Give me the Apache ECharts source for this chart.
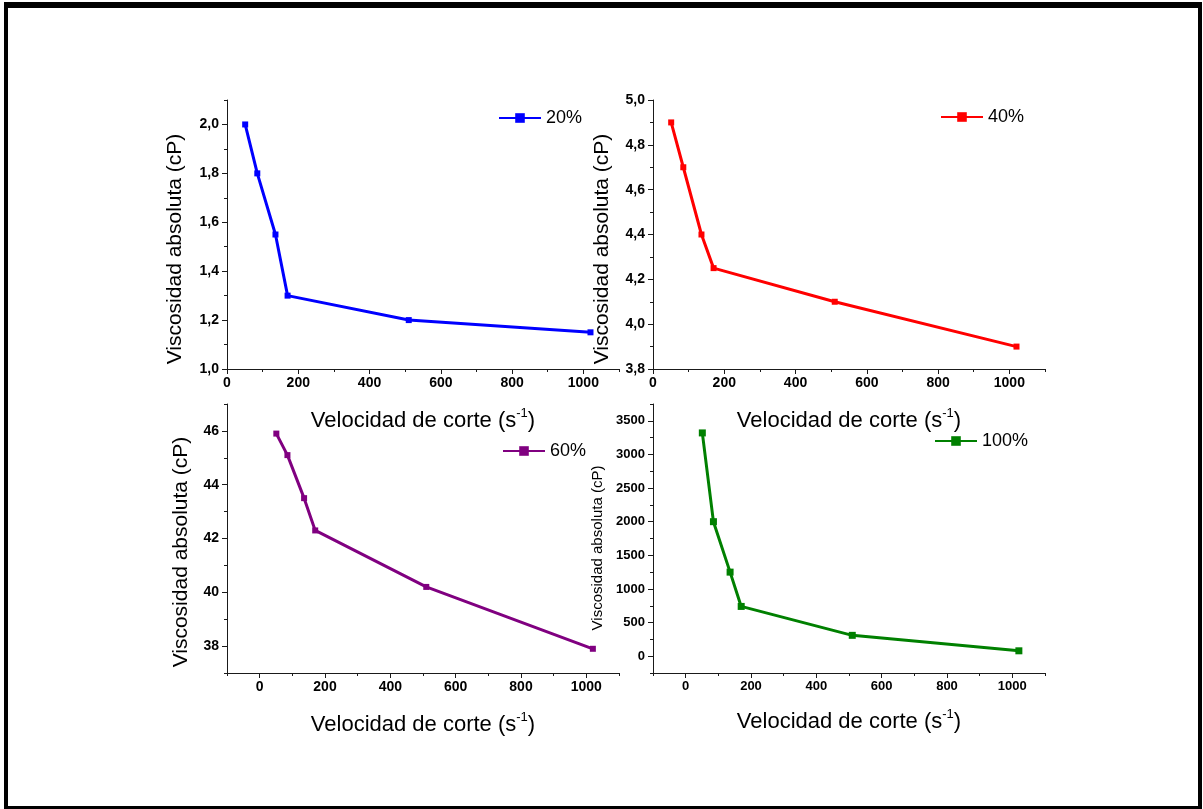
<!DOCTYPE html>
<html>
<head>
<meta charset="utf-8">
<script src="https://cdn.jsdelivr.net/npm/echarts@6/dist/echarts.min.js"></script>
<style>
  html, body { margin: 0; padding: 0; background: #fff; }
  #chart { width: 1203px; height: 809px; }
</style>
</head>
<body>
<div id="chart"></div>
<script>
// Shear rates (s^-1) measured for every dilution
const shearRate = [51, 85, 136, 170, 510, 1020];

// Absolute viscosity (cP) per dilution
const visc20 = [2.0, 1.8, 1.55, 1.3, 1.2, 1.15];
const visc40 = [4.9, 4.7, 4.4, 4.25, 4.1, 3.9];
const visc60 = [45.9, 45.1, 43.5, 42.3, 40.2, 37.9];
const visc100 = [3320, 2000, 1250, 740, 310, 80];
const seriesNames = ['20%', '40%', '60%', '100%'];

// Major tick / label values
const xTicks = [0, 200, 400, 600, 800, 1000];
const yTicks20 = [1.0, 1.2, 1.4, 1.6, 1.8, 2.0];
const yTicks40 = [3.8, 4.0, 4.2, 4.4, 4.6, 4.8, 5.0];
const yTicks60 = [38, 40, 42, 44, 46];
const yTicks100 = [0, 500, 1000, 1500, 2000, 2500, 3000, 3500];

const xTitle = 'Velocidad de corte (s';
const xTitleSup = '-1';
const yTitle = 'Viscosidad absoluta (cP)';

const FONT = '"Liberation Sans", Arial, Helvetica, sans-serif';
const AXIS_COLOR = '#1a1a1a';

const panels = [
  { name: seriesNames[0], values: visc20, color: '#0000ff', left: 227, top: 100,
    xMin: 0, xMax: 1100, xMinor: 100, xTicks: xTicks,
    yMin: 1.0, yMax: 2.1, yMinor: 0.1, yTicks: yTicks20, dec: 1,
    symbolSize: 6, labelSize: 14, legend: [498, 109], nameGap: 38,
    yTitle: { x: 175, y: 249, size: 21 } },
  { name: seriesNames[1], values: visc40, color: '#ff0000', left: 653, top: 100,
    xMin: 0, xMax: 1100, xMinor: 100, xTicks: xTicks,
    yMin: 3.8, yMax: 5.0, yMinor: 0.1, yTicks: yTicks40, dec: 1,
    symbolSize: 6, labelSize: 14, legend: [940, 108], nameGap: 38,
    yTitle: { x: 602, y: 249, size: 21 } },
  { name: seriesNames[2], values: visc60, color: '#800080', left: 227, top: 404,
    xMin: -100, xMax: 1100, xMinor: 100, xTicks: xTicks,
    yMin: 37, yMax: 47, yMinor: 1, yTicks: yTicks60, dec: 0,
    symbolSize: 6, labelSize: 14, legend: [502, 442], nameGap: 38,
    yTitle: { x: 181, y: 552, size: 21 } },
  { name: seriesNames[3], values: visc100, color: '#008000', left: 653, top: 404,
    xMin: -100, xMax: 1100, xMinor: 100, xTicks: xTicks,
    yMin: -250, yMax: 3750, yMinor: 250, yTicks: yTicks100, dec: 0,
    symbolSize: 7, labelSize: 13, legend: [934, 432], nameGap: 35,
    yTitle: { x: 598, y: 548, size: 15 } }
];

const grid = [], xAxis = [], yAxis = [], series = [], legend = [];
const graphic = [
  // page frame
  { type: 'rect', shape: { x: 4, y: 2, width: 1198, height: 6 }, style: { fill: '#000' } },
  { type: 'rect', shape: { x: 4, y: 2, width: 4, height: 807 }, style: { fill: '#000' } },
  { type: 'rect', shape: { x: 1198, y: 2, width: 4, height: 807 }, style: { fill: '#000' } },
  { type: 'rect', shape: { x: 4, y: 806, width: 1198, height: 3 }, style: { fill: '#000' } }
];

const axisLineStyle = { color: AXIS_COLOR, width: 1 };

panels.forEach((p, i) => {
  grid.push({ left: p.left, top: p.top, width: 392, height: 269, containLabel: false });

  const labelStyle = {
    color: '#000', fontWeight: 'bold', fontSize: p.labelSize, fontFamily: FONT
  };

  // main x axis: line, major ticks, labels, title
  xAxis.push({
    type: 'value', gridIndex: i, position: 'bottom', min: p.xMin, max: p.xMax,
    axisLine: { show: true, onZero: false, lineStyle: axisLineStyle },
    axisTick: { show: true, customValues: p.xTicks, length: 5, lineStyle: axisLineStyle },
    axisLabel: Object.assign({
      customValues: p.xTicks, margin: 7,
      formatter: v => String(Math.round(v))
    }, labelStyle),
    splitLine: { show: false },
    name: '{a|' + xTitle + '}{b|' + xTitleSup + '}{a|)}',
    nameLocation: 'middle',
    nameGap: p.nameGap,
    nameTextStyle: {
      rich: {
        a: { fontSize: 22, fontFamily: FONT, color: '#000', lineHeight: 27 },
        b: { fontSize: 13, fontFamily: FONT, color: '#000', lineHeight: 14, verticalAlign: 'top' }
      }
    }
  });
  // minor x ticks
  xAxis.push({
    type: 'value', gridIndex: i, position: 'bottom', min: p.xMin, max: p.xMax, interval: p.xMinor,
    axisLine: { show: false, onZero: false },
    axisTick: { show: true, length: 3, lineStyle: axisLineStyle },
    axisLabel: { show: false },
    splitLine: { show: false }
  });

  // main y axis
  yAxis.push({
    type: 'value', gridIndex: i, position: 'left', min: p.yMin, max: p.yMax,
    axisLine: { show: true, onZero: false, lineStyle: axisLineStyle },
    axisTick: { show: true, customValues: p.yTicks, length: 5, lineStyle: axisLineStyle },
    axisLabel: Object.assign({
      customValues: p.yTicks, margin: 8,
      formatter: v => p.dec ? Number(v).toFixed(p.dec).replace('.', ',') : String(Math.round(v))
    }, labelStyle),
    splitLine: { show: false }
  });
  // minor y ticks
  yAxis.push({
    type: 'value', gridIndex: i, position: 'left', min: p.yMin, max: p.yMax, interval: p.yMinor,
    axisLine: { show: false, onZero: false },
    axisTick: { show: true, length: 3, lineStyle: axisLineStyle },
    axisLabel: { show: false },
    splitLine: { show: false }
  });

  series.push({
    type: 'line', name: p.name,
    xAxisIndex: 2 * i, yAxisIndex: 2 * i,
    data: shearRate.map((x, k) => [x, p.values[k]]),
    symbol: 'rect', symbolSize: p.symbolSize, showAllSymbol: true,
    color: p.color,
    lineStyle: { width: 3, color: p.color },
    itemStyle: { color: p.color },
    animation: false, clip: false, z: 3
  });

  legend.push({
    data: [p.name], left: p.legend[0], top: p.legend[1], padding: 0,
    itemWidth: 42, itemHeight: 12, selectedMode: false,
    textStyle: { fontSize: 18, color: '#000', fontFamily: FONT }
  });

  graphic.push({
    type: 'text', x: p.yTitle.x, y: p.yTitle.y, rotation: Math.PI / 2,
    style: {
      text: yTitle, fill: '#000', fontSize: p.yTitle.size, fontFamily: FONT,
      align: 'center', verticalAlign: 'middle'
    }
  });
});

const chart = echarts.init(document.getElementById('chart'), null, { renderer: 'canvas' });
chart.setOption({
  backgroundColor: '#fff',
  animation: false,
  grid, xAxis, yAxis, series, legend, graphic
});
</script>
</body>
</html>
